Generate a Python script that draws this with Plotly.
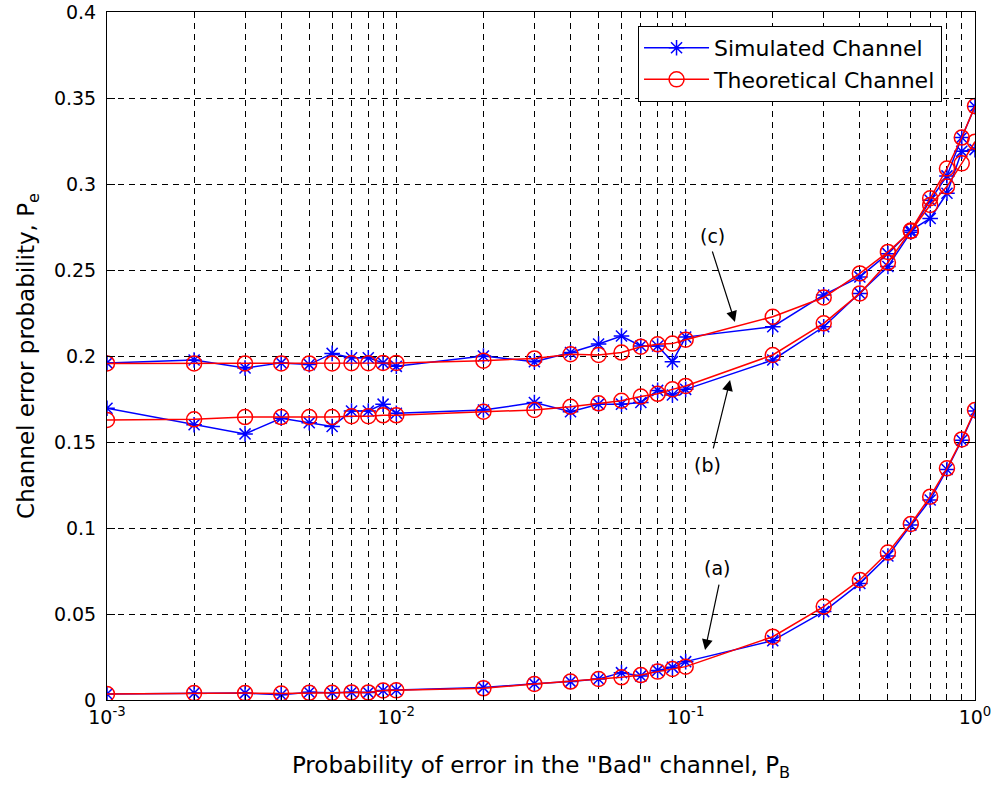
import math
import plotly.graph_objects as go

# ---- data ----
pb = [0.001, 0.002, 0.003, 0.004, 0.005, 0.006, 0.007, 0.008, 0.009,
      0.01, 0.02, 0.03, 0.04, 0.05, 0.06, 0.07, 0.08, 0.09,
      0.1, 0.2, 0.3, 0.4, 0.5, 0.6, 0.7, 0.8, 0.9, 1.0]

sim_a = [0.0035, 0.0040, 0.0040, 0.0030, 0.0045, 0.0042, 0.0045, 0.0043, 0.0055,
         0.0058, 0.0072, 0.0095, 0.0107, 0.0122, 0.0159, 0.0140, 0.0172, 0.0190,
         0.0223, 0.0345, 0.0514, 0.0678, 0.0837, 0.1017, 0.1163, 0.1340, 0.1510, 0.1680]
theo_a = [0.0035, 0.0040, 0.0040, 0.0038, 0.0042, 0.0042, 0.0044, 0.0044, 0.0055,
          0.0056, 0.0068, 0.0093, 0.0107, 0.0122, 0.0132, 0.0145, 0.0165, 0.0180,
          0.0194, 0.0368, 0.0543, 0.0698, 0.0857, 0.1023, 0.1182, 0.1347, 0.1515, 0.1686]

sim_b = [0.1696, 0.1600, 0.1547, 0.1638, 0.1612, 0.1590, 0.1680, 0.1680, 0.1720,
         0.1667, 0.1686, 0.1729, 0.1676, 0.1720, 0.1720, 0.1730, 0.1800, 0.1773,
         0.1806, 0.1977, 0.2170, 0.2364, 0.2520, 0.2720, 0.2905, 0.3047, 0.3270, 0.3450]
theo_b = [0.1628, 0.1632, 0.1645, 0.1645, 0.1645, 0.1645, 0.1650, 0.1650, 0.1655,
          0.1655, 0.1676, 0.1686, 0.1705, 0.1725, 0.1740, 0.1764, 0.1780, 0.1806,
          0.1826, 0.2006, 0.2190, 0.2364, 0.2543, 0.2729, 0.2917, 0.3090, 0.3270, 0.3453]

sim_c = [0.1960, 0.1977, 0.1930, 0.1960, 0.1950, 0.2015, 0.1990, 0.1990, 0.1960,
         0.1940, 0.2000, 0.1967, 0.2020, 0.2070, 0.2116, 0.2058, 0.2058, 0.1967,
         0.2110, 0.2170, 0.2355, 0.2460, 0.2595, 0.2730, 0.2800, 0.2946, 0.3190, 0.3200]
theo_c = [0.1957, 0.1957, 0.1957, 0.1957, 0.1957, 0.1957, 0.1958, 0.1958, 0.1960,
          0.1960, 0.1973, 0.1986, 0.2010, 0.2006, 0.2020, 0.2054, 0.2068, 0.2072,
          0.2095, 0.2228, 0.2340, 0.2480, 0.2605, 0.2726, 0.2878, 0.2985, 0.3120, 0.3246]

y_ticks = [0, 0.05, 0.1, 0.15, 0.2, 0.25, 0.3, 0.35, 0.4]
y_ticklabels = ["0", "0.05", "0.1", "0.15", "0.2", "0.25", "0.3", "0.35", "0.4"]
decade_labels = {0.001: "10<sup>-3</sup>", 0.01: "10<sup>-2</sup>",
                 0.1: "10<sup>-1</sup>", 1.0: "10<sup>0</sup>"}

# curve labels: label position and arrow tip/tail (data coords)
labels = ["(a)", "(b)", "(c)"]
label_x = [0.1284, 0.1186, 0.1234]
label_y = [0.0767, 0.1366, 0.2698]
arrow_tip_x = [0.1167, 0.1424, 0.148]
arrow_tip_y = [0.029, 0.186, 0.2198]
arrow_tail_x = [0.1307, 0.1242, 0.1232]
arrow_tail_y = [0.068, 0.1454, 0.2616]

FONT = "DejaVu Sans, Verdana, sans-serif"

fig = go.Figure()

sims = [sim_a, sim_b, sim_c]
theos = [theo_a, theo_b, theo_c]

for i, s in enumerate(sims):
    fig.add_trace(go.Scatter(
        x=pb, y=s, mode="lines+markers", name="Simulated Channel",
        legendgroup="sim", showlegend=(i == 0),
        line=dict(color="#0000ff", width=1.5),
        marker=dict(symbol="asterisk-open", size=13, color="#0000ff",
                    line=dict(color="#0000ff", width=1.5))))
for i, t in enumerate(theos):
    fig.add_trace(go.Scatter(
        x=pb, y=t, mode="lines+markers", name="Theoretical Channel",
        legendgroup="theo", showlegend=(i == 0),
        line=dict(color="#ff0000", width=1.5),
        marker=dict(symbol="circle-open", size=15, color="#ff0000",
                    line=dict(color="#ff0000", width=1.5))))

for lab, lx, ly, tx, ty, sx, sy in zip(labels, label_x, label_y, arrow_tip_x,
                                        arrow_tip_y, arrow_tail_x, arrow_tail_y):
    fig.add_annotation(x=math.log10(tx), y=ty, xref="x", yref="y", text="",
                       showarrow=True, ax=math.log10(sx), ay=sy, axref="x", ayref="y",
                       arrowhead=2, arrowsize=1.8, arrowwidth=1.2, arrowcolor="black",
                       standoff=0, startstandoff=0)
    fig.add_annotation(x=math.log10(lx), y=ly, xref="x", yref="y", text=lab,
                       showarrow=False,
                       font=dict(family=FONT, size=19, color="black"))

ticktext = [decade_labels.get(v, "") for v in pb]

fig.update_xaxes(
    type="log", range=[-3, 0], automargin=False,
    tickvals=pb, ticktext=ticktext,
    ticks="inside", ticklen=5, tickcolor="black", tickwidth=1,
    showgrid=True, gridcolor="black", gridwidth=1, griddash="6px,5px",
    showline=True, linecolor="black", linewidth=1, mirror="ticks",
    zeroline=False,
    tickfont=dict(family=FONT, size=19, color="black"),
    title=dict(text='Probability of error in the "Bad" channel, P<sub>B</sub>',
               font=dict(family=FONT, size=23, color="black"), standoff=30),
)
fig.update_yaxes(
    range=[0, 0.4], automargin=False,
    tickvals=y_ticks, ticktext=y_ticklabels,
    ticks="inside", ticklen=8, tickcolor="black", tickwidth=1,
    showgrid=True, gridcolor="black", gridwidth=1, griddash="6px,5px",
    showline=True, linecolor="black", linewidth=1, mirror="ticks",
    zeroline=False,
    tickfont=dict(family=FONT, size=19, color="black"),
    ticklabelstandoff=6,
    title=dict(text="Channel error probability, P<sub>e</sub>",
               font=dict(family=FONT, size=23, color="black"), standoff=12),
)

fig.update_layout(
    width=995, height=790,
    margin=dict(l=107, r=20, t=12, b=90),
    paper_bgcolor="white", plot_bgcolor="white",
    showlegend=True,
    legend=dict(x=0.6118, y=0.9797, xanchor="left", yanchor="top",
                bgcolor="white", bordercolor="black", borderwidth=1,
                font=dict(family=FONT, size=22, color="black"),
                itemwidth=65, tracegroupgap=0),
)

fig.write_html("out.html")
